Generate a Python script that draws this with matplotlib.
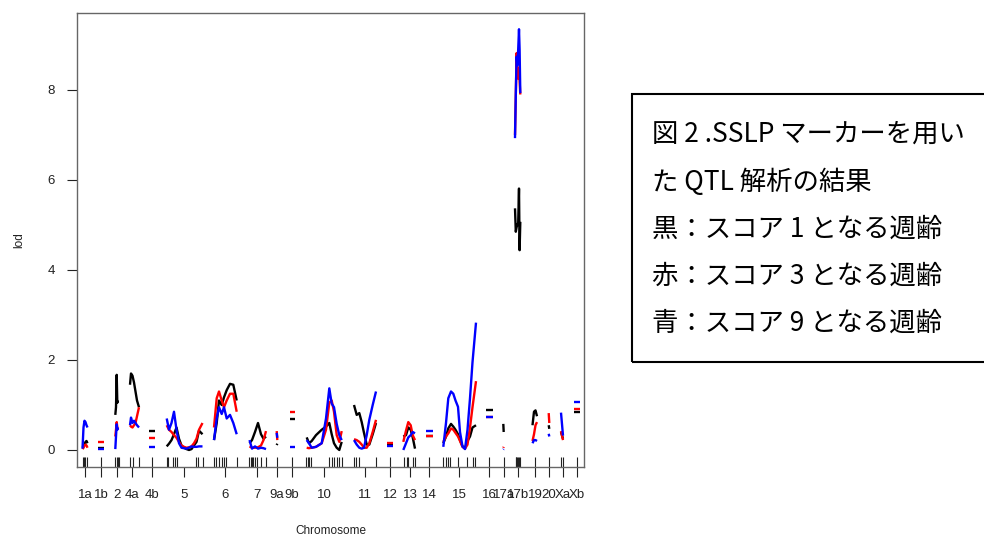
import matplotlib
matplotlib.use("Agg")
import matplotlib.pyplot as plt
from matplotlib.patches import Rectangle
import matplotlib.transforms as mtransforms

plt.rcParams['font.family'] = ['Liberation Sans', 'DejaVu Sans']

# ---------------- data ----------------
chrom_names = ["1a", "1b", "2", "4a", "4b", "5", "6", "7", "9a", "9b", "10", "11",
               "12", "13", "14", "15", "16", "17a", "17b", "19", "20", "Xa", "Xb"]
chrom_mid = [85, 101, 117, 132, 152, 184, 225, 257, 277, 292, 324, 365,
             390, 410, 429, 459, 489, 504, 518, 535, 549, 563, 577]

# genome positions of the LOD evaluation points, one list per chromosome
pos = [
    [82.5, 83.5, 84.5, 85.5, 86.5, 87.5],
    [98, 104],
    [115.3, 116, 116.7, 117.3, 118],
    [130, 131, 132.5, 134, 135.5, 137, 139],
    [148.5, 155],
    [166.7, 169, 171.5, 174, 176.5, 179, 181.5, 184, 186.5, 189, 191.5, 194, 196.5, 199, 202.5],
    [214, 216.7, 219, 221.7, 224, 226.7, 230, 233.3, 236.7],
    [249.5, 252, 255, 258, 261, 263.5, 266],
    [276.7, 277.3],
    [289.5, 295],
    [306.7, 309, 311.7, 316, 321.7, 326, 329.3, 331.7, 334, 336.7, 339.3, 341.7],
    [354, 356.7, 359.3, 361.7, 364, 366.7, 369.3, 372.7, 376],
    [387, 393],
    [403.3, 406, 408.3, 410.7, 412.7, 415],
    [426, 433],
    [443.3, 446, 448.3, 451, 453.3, 455.5, 458, 460, 462.5, 465, 467.5, 470, 472.5, 476],
    [486, 493],
    [503.3, 503.7],
    [515, 515.8, 516.6, 517.4, 518.2, 519, 519.6, 520.3],
    [532.5, 534, 535.5, 537],
    [548.7, 549.3],
    [561, 563],
    [573.5, 580],
]

# LOD: age at score 1 (black)
lod_score1 = [
    [0.05, 0.08, 0.12, 0.18, 0.2, 0.15],
    [0.05, 0.05],
    [0.78, 0.95, 1.67, 1.05, 1.1],
    [1.45, 1.7, 1.65, 1.5, 1.3, 1.1, 0.95],
    [0.42, 0.42],
    [0.08, 0.14, 0.22, 0.35, 0.5, 0.25, 0.1, 0.05, 0.02, 0.0, 0.02, 0.1, 0.18, 0.43, 0.35],
    [0.22, 0.6, 1.1, 1.0, 1.17, 1.33, 1.47, 1.45, 1.1],
    [0.15, 0.22, 0.4, 0.6, 0.35, 0.25, 0.3],
    [0.11, 0.14],
    [0.68, 0.68],
    [0.28, 0.15, 0.2, 0.33, 0.45, 0.52, 0.6, 0.35, 0.15, 0.05, 0.0, 0.18],
    [1.0, 0.78, 0.82, 0.62, 0.38, 0.12, 0.12, 0.35, 0.6],
    [0.12, 0.12],
    [0.3, 0.33, 0.5, 0.45, 0.28, 0.03],
    [0.3, 0.3],
    [0.15, 0.3, 0.48, 0.58, 0.52, 0.45, 0.35, 0.22, 0.08, 0.04, 0.2, 0.3, 0.5, 0.55],
    [0.88, 0.88],
    [0.58, 0.4],
    [5.37, 4.85, 4.95, 5.0, 5.05, 5.81, 4.44, 5.07],
    [0.55, 0.85, 0.88, 0.75],
    [0.55, 0.47],
    [0.4, 0.25],
    [0.85, 0.85],
]

# LOD: age at score 3 (red)
lod_score3 = [
    [0.02, 0.05, 0.1, 0.12, 0.1, 0.05],
    [0.17, 0.17],
    [0.3, 0.45, 0.62, 0.5, 0.45],
    [0.55, 0.52, 0.5, 0.55, 0.6, 0.75, 0.95],
    [0.27, 0.27],
    [0.55, 0.45, 0.4, 0.33, 0.27, 0.18, 0.1, 0.07, 0.05, 0.06, 0.08, 0.15, 0.25, 0.45, 0.6],
    [0.5, 1.15, 1.3, 1.1, 0.95, 1.1, 1.25, 1.25, 0.85],
    [0.08, 0.05, 0.05, 0.06, 0.1, 0.22, 0.42],
    [0.42, 0.22],
    [0.85, 0.85],
    [0.05, 0.04, 0.05, 0.07, 0.15, 0.45, 1.05, 1.1, 0.85, 0.33, 0.18, 0.42],
    [0.24, 0.22, 0.18, 0.12, 0.05, 0.05, 0.15, 0.4, 0.67],
    [0.16, 0.16],
    [0.18, 0.43, 0.62, 0.55, 0.33, 0.22],
    [0.3, 0.3],
    [0.18, 0.3, 0.37, 0.48, 0.45, 0.38, 0.3, 0.2, 0.07, 0.03, 0.12, 0.5, 0.95, 1.53],
    [0.73, 0.73],
    [0.05, 0.07],
    [7.0, 7.9, 8.82, 8.3, 8.25, 8.5, 8.2, 7.9],
    [0.2, 0.35, 0.55, 0.62],
    [0.82, 0.6],
    [0.42, 0.22],
    [0.92, 0.92],
]

# LOD: age at score 9 (blue)
lod_score9 = [
    [0.03, 0.5, 0.65, 0.62, 0.55, 0.5],
    [0.03, 0.03],
    [0.02, 0.3, 0.57, 0.45, 0.5],
    [0.55, 0.72, 0.6, 0.65, 0.6, 0.55, 0.5],
    [0.07, 0.07],
    [0.7, 0.45, 0.6, 0.85, 0.45, 0.15, 0.05, 0.04, 0.03, 0.05, 0.08, 0.07, 0.07, 0.08, 0.08],
    [0.22, 0.7, 0.95, 0.8, 0.95, 0.7, 0.78, 0.6, 0.35],
    [0.22, 0.03, 0.08, 0.03, 0.05, 0.04, 0.02],
    [0.38, 0.27],
    [0.07, 0.07],
    [0.22, 0.15, 0.05, 0.07, 0.15, 0.7, 1.37, 1.03, 0.95, 0.58, 0.33, 0.22],
    [0.22, 0.12, 0.05, 0.03, 0.05, 0.33, 0.67, 1.0, 1.3],
    [0.08, 0.08],
    [0.0, 0.15, 0.28, 0.33, 0.4, 0.37],
    [0.43, 0.43],
    [0.07, 0.6, 1.15, 1.3, 1.25, 1.1, 0.96, 0.4, 0.08, 0.02, 0.45, 1.15, 1.95, 2.83],
    [0.73, 0.73],
    [0.01, 0.02],
    [6.93, 7.9, 8.74, 8.55, 8.9, 9.35, 8.9, 7.93],
    [0.15, 0.22, 0.22, 0.2],
    [0.36, 0.3],
    [0.83, 0.32],
    [1.07, 1.07],
]

# marker positions (rug)
markers = [82.7, 84, 85.3, 86.7, 101, 115, 116.7, 117.7, 119, 130, 132.7, 139, 152,
           166.7, 168.3, 173.3, 175.3, 177.3, 196, 198.3, 202.7,
           214, 215.7, 219, 222.3, 224, 226, 236.7,
           249, 250.5, 251.5, 253, 254.5, 257, 261, 266, 277, 292,
           306, 307.5, 309, 310.5, 329, 331.5, 334, 336.5, 339, 342,
           354, 356, 358.7, 376, 390, 404, 406.7, 408.3, 413.3, 415, 429,
           443, 445.5, 447.5, 450, 458, 467, 473, 475, 489, 503.5,
           515.5, 516.2, 517, 518, 519, 520, 535, 549, 561, 563, 577]

legend_lines = ["図 2 .SSLP マーカーを用い",
                "た QTL 解析の結果",
                "黒：スコア 1 となる週齢",
                "赤：スコア 3 となる週齢",
                "青：スコア 9 となる週齢"]

# ---------------- plot ----------------
W, H = 984, 537
fig = plt.figure(figsize=(W / 100, H / 100), dpi=100)
ax = fig.add_axes([77 / W, (H - 467) / H, (584 - 77) / W, (467 - 13) / H])

for series, col in [(lod_score1, "black"), (lod_score3, "red"), (lod_score9, "blue")]:
    for p, v in zip(pos, series):
        ax.plot(p, v, color=col, lw=1.7, solid_capstyle="butt", solid_joinstyle="round")

ax.set_xlim(77, 584)
ax.set_ylim(-0.378, 9.711)

trans = mtransforms.blended_transform_factory(ax.transData, ax.transAxes)
ax.vlines(markers, 0, 0.021, transform=trans, color="#222222", lw=0.8)

ax.set_xticks(chrom_mid)
ax.set_xticklabels(chrom_names)
ax.set_yticks([0, 2, 4, 6, 8])
ax.tick_params(axis="x", length=7, width=0.8, pad=9, labelsize=9.5, colors="#222222")
ax.tick_params(axis="y", length=7, width=0.8, pad=9, labelsize=9.5, colors="#222222")
for s in ax.spines.values():
    s.set_color("#666666")
    s.set_linewidth(1.0)

ax.set_xlabel("Chromosome", fontsize=8.5, color="#222222", labelpad=17)
ax.set_ylabel("lod", fontsize=8.5, color="#222222", labelpad=16)

# text box on the right
fig.patches.append(Rectangle((632 / W, (H - 362) / H), (1010 - 632) / W, (362 - 94) / H,
                             transform=fig.transFigure, fill=False, edgecolor="black",
                             lw=1.5, figure=fig))
line_y = [134, 182, 229, 276, 323]
for txt, yy in zip(legend_lines, line_y):
    fig.text(652 / W, 1 - yy / H, txt, ha="left", va="center", fontsize=19,
             family=["Noto Sans CJK JP", "DejaVu Sans"], color="black")

fig.savefig("out.png", dpi=100)
